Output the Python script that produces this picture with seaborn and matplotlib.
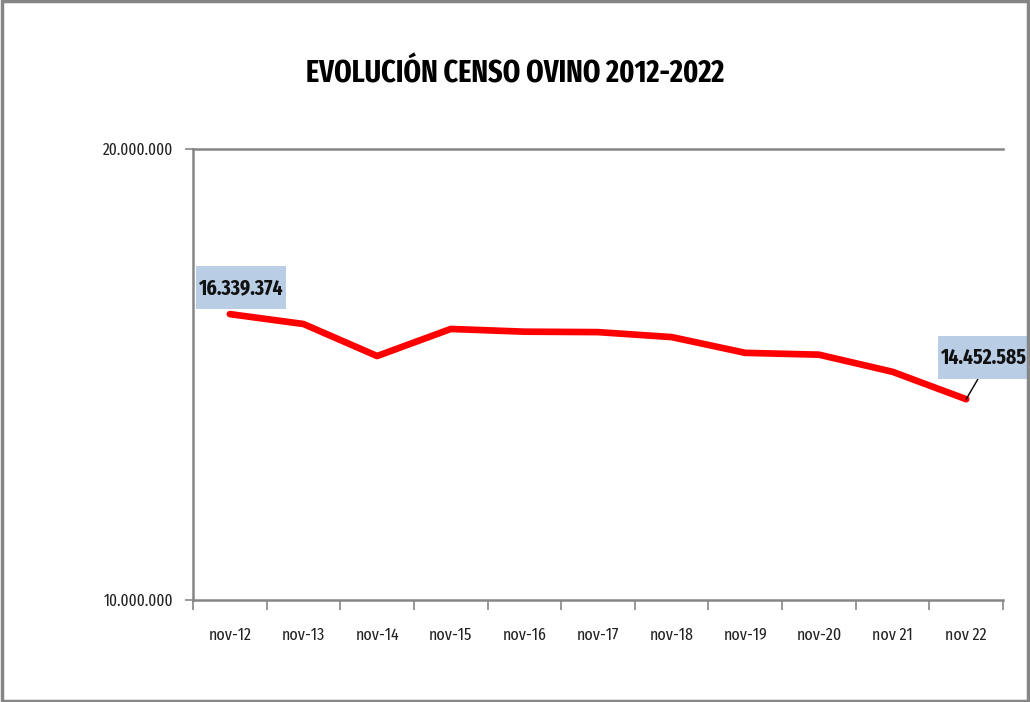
import numpy as np
import pandas as pd
import matplotlib
matplotlib.use("Agg")
import matplotlib.pyplot as plt
import seaborn as sns
from matplotlib.ticker import FuncFormatter, FixedLocator

# data
periods = ["nov-12", "nov-13", "nov-14", "nov-15", "nov-16", "nov-17",
           "nov-18", "nov-19", "nov-20", "nov 21", "nov 22"]
census = [16339374, 16120000, 15410000, 16010000, 15950000, 15940000,
          15830000, 15480000, 15440000, 15060000, 14452585]
y_ticks = [10000000, 20000000]

FONT = ["Fira Sans Extra Condensed", "DejaVu Sans"]
GREY = "#868686"
LINE_RED = "#FF0000"
LABEL_BG = "#B9CDE5"


def thousands(v, _pos=None):
    return f"{int(v):,}".replace(",", ".")


def main() -> None:
    sns.set_theme(style="white")
    plt.rcParams["font.family"] = FONT

    df = pd.DataFrame({"periodo": periods, "censo": census})

    fig = plt.figure(figsize=(10.3, 7.02), dpi=100)
    ax = fig.add_axes([0.1874, 0.1453, 0.9738 - 0.1874, 0.7877 - 0.1453])

    sns.lineplot(data=df, x="periodo", y="censo", color=LINE_RED,
                 linewidth=4.8, sort=False, ax=ax)

    ax.set_xlim(-0.5, len(periods) - 0.5)
    ax.set_ylim(y_ticks[0], y_ticks[-1])
    ax.set_xlabel("")
    ax.set_ylabel("")

    # y axis: only the two major values, gridline at the top
    ax.yaxis.set_major_locator(FixedLocator(y_ticks))
    ax.yaxis.set_major_formatter(FuncFormatter(thousands))
    ax.tick_params(axis="y", which="major", length=6, width=1.2, color=GREY,
                   labelsize=12, labelcolor="#222222", direction="out",
                   pad=8, left=True)

    # x axis: labels at centres, tick marks between categories
    ax.set_xticks(range(len(periods)))
    ax.set_xticklabels(periods)
    ax.set_xticks(np.arange(-0.5, len(periods)), minor=True)
    ax.tick_params(axis="x", which="major", length=0, labelsize=12.5,
                   labelcolor="#222222", pad=20)
    ax.tick_params(axis="x", which="minor", length=7, width=1.2, color=GREY,
                   direction="out", bottom=True)

    for side in ["left", "bottom", "top"]:
        ax.spines[side].set_visible(True)
        ax.spines[side].set_color(GREY)
        ax.spines[side].set_linewidth(1.8)
    ax.spines["right"].set_visible(False)

    # data labels on first and last point
    box = dict(boxstyle="square,pad=0.15", facecolor=LABEL_BG,
               edgecolor="none", mutation_aspect=3.4)
    ax.annotate(thousands(census[0]), xy=(0, census[0]),
                xytext=(8, 19), textcoords="offset points",
                fontsize=15.3, fontweight="bold", color="#111111",
                ha="center", va="center", bbox=box)
    ax.annotate(thousands(census[-1]), xy=(len(periods) - 1, census[-1]),
                xytext=(13, 30), textcoords="offset points",
                fontsize=15.3, fontweight="bold", color="#111111",
                ha="center", va="center", bbox=box, annotation_clip=False,
                arrowprops=dict(arrowstyle="-", color="black", lw=1.0,
                                shrinkA=0, shrinkB=0, relpos=(0.5, 0.0)))

    fig.text(0.5, 0.895, "EVOLUCIÓN CENSO OVINO 2012-2022", ha="center",
             va="center", fontsize=22, fontweight="bold", color="black")

    # outer chart frame
    fig.patches.append(plt.Rectangle((0.002, 0.002), 0.996, 0.996,
                                     transform=fig.transFigure, fill=False,
                                     edgecolor=GREY, linewidth=2.5))

    fig.savefig("out.png", dpi=100)
    plt.close(fig)


if __name__ == "__main__":
    main()
